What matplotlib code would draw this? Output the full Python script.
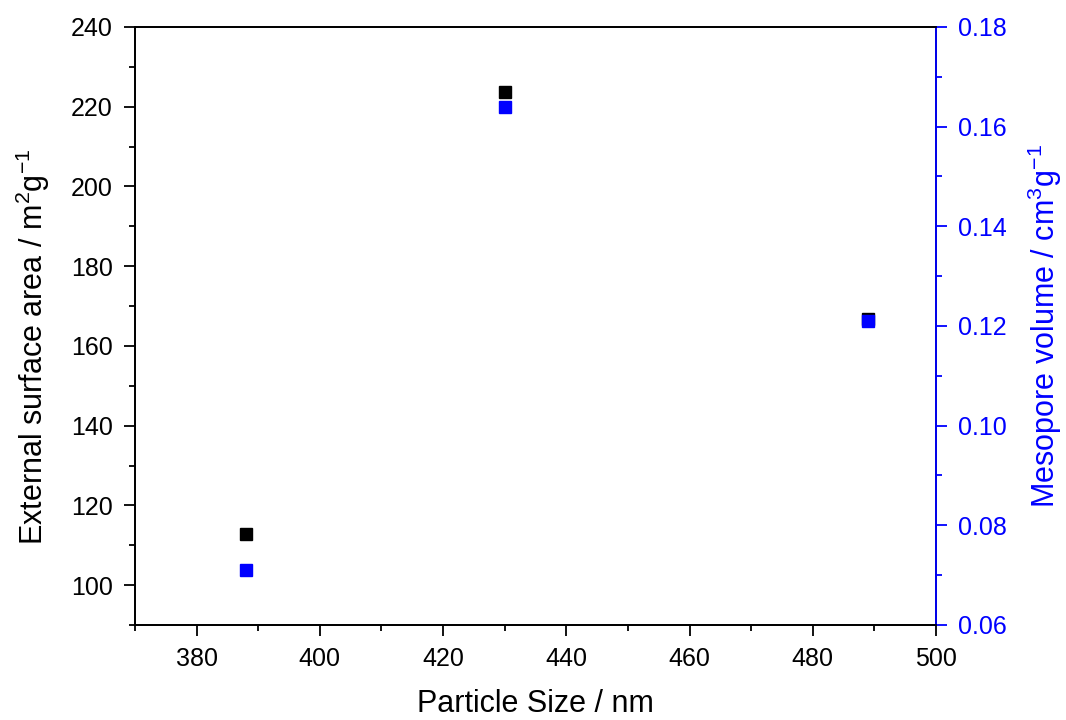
import matplotlib
matplotlib.use('Agg')
import matplotlib.pyplot as plt
from matplotlib.ticker import MultipleLocator

plt.rcParams['font.family'] = ['Liberation Sans', 'DejaVu Sans']
plt.rcParams['mathtext.fontset'] = 'custom'
plt.rcParams['mathtext.rm'] = 'Liberation Sans'
plt.rcParams['mathtext.it'] = 'Liberation Sans:italic'

particle_size = [388, 430, 489]
surface_area = [112.7, 223.8, 166.7]
mesopore_volume = [0.071, 0.164, 0.121]

BLUE = '#0000ff'

fig = plt.figure(figsize=(10.66, 7.2), dpi=100)
ax = fig.add_axes([0.1266, 0.132, 0.7515, 0.8305])
ax2 = ax.twinx()

ax.plot(particle_size, surface_area, 's', color='black', markersize=8, linestyle='none')
ax2.plot(particle_size, mesopore_volume, 's', color=BLUE, markersize=8, linestyle='none')

ax.set_xlim(370, 500)
ax.set_ylim(90, 240)
ax2.set_ylim(0.06, 0.18)

ax.xaxis.set_major_locator(MultipleLocator(20))
ax.xaxis.set_minor_locator(MultipleLocator(10))
ax.yaxis.set_major_locator(MultipleLocator(20))
ax.yaxis.set_minor_locator(MultipleLocator(10))
ax2.yaxis.set_major_locator(MultipleLocator(0.02))
ax2.yaxis.set_minor_locator(MultipleLocator(0.01))
ax2.yaxis.set_major_formatter(plt.FuncFormatter(lambda v, p: f'{v:.2f}'))

for a in (ax, ax2):
    a.tick_params(which='major', direction='out', length=8, width=1.3, labelsize=18, pad=8)
    a.tick_params(which='minor', direction='out', length=4, width=1.3)
    for s in a.spines.values():
        s.set_linewidth(1.3)

ax.tick_params(axis='x', which='both', top=False)
ax2.tick_params(axis='y', which='both', colors=BLUE, labelcolor=BLUE)
ax2.spines['right'].set_color(BLUE)

ax.set_xlabel('Particle Size / nm', fontsize=22, labelpad=13)
ax.set_ylabel('External surface area / m$^2$g$^{-1}$', fontsize=22)
ax2.set_ylabel('Mesopore volume / cm$^3$g$^{-1}$', fontsize=22, color=BLUE, labelpad=13)
ax.yaxis.set_label_coords(-0.103, 0.465)

fig.savefig('out.png', dpi=100)
